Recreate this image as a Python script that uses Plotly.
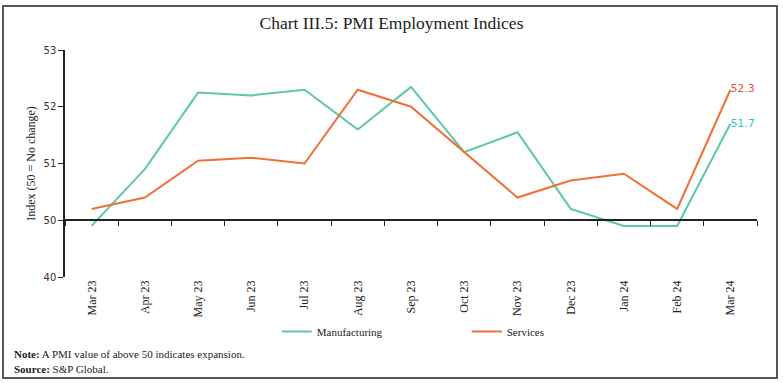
import plotly.graph_objects as go

months = ["Mar 23", "Apr 23", "May 23", "Jun 23", "Jul 23", "Aug 23", "Sep 23",
          "Oct 23", "Nov 23", "Dec 23", "Jan 24", "Feb 24", "Mar 24"]
manufacturing = [49.9, 50.9, 52.25, 52.2, 52.3, 51.6, 52.35, 51.2, 51.55, 50.2, 49.9, 49.9, 51.7]
services = [50.2, 50.4, 51.05, 51.1, 51.0, 52.3, 52.0, 51.2, 50.4, 50.7, 50.82, 50.2, 52.3]
ytick_vals = [49, 50, 51, 52, 53]
ytick_text = ["40", "50", "51", "52", "53"]

GREEN = "#5EC7A9"
ORANGE = "#F07035"
SERIF = "Liberation Serif"
SANS = "DejaVu Sans"

fig = go.Figure()

def last_labels(vals):
    return [""] * (len(vals) - 1) + [f"{vals[-1]:.1f}"]

fig.add_trace(go.Scatter(
    x=months, y=manufacturing, name="Manufacturing", mode="lines+text",
    line=dict(color=GREEN, width=2), text=last_labels(manufacturing),
    textposition="middle right", textfont=dict(family=SANS, size=11, color="#38C4C4"),
    cliponaxis=False))
fig.add_trace(go.Scatter(
    x=months, y=services, name="Services", mode="lines+text",
    line=dict(color=ORANGE, width=2), text=last_labels(services),
    textposition="middle right", textfont=dict(family=SANS, size=11, color="#E8553A"),
    cliponaxis=False))
# helper trace for the axis drawn at y = 50
fig.add_trace(go.Scatter(x=months, y=[None] * len(months), xaxis="x2",
                         showlegend=False, hoverinfo="skip"))

fig.update_layout(
    width=783, height=383,
    margin=dict(l=65, r=26, t=50, b=106, autoexpand=False),
    paper_bgcolor="white", plot_bgcolor="white",
    title=dict(text="Chart III.5: PMI Employment Indices", x=0.5, xanchor="center",
               y=0.94, yanchor="middle", font=dict(family=SERIF, size=17.5, color="#222")),
    xaxis=dict(type="category", categoryarray=months, range=[-0.5, 12.5],
               showline=False, ticks="", showgrid=False, tickangle=-90,
               tickfont=dict(family=SERIF, size=12, color="#222")),
    xaxis2=dict(type="category", categoryarray=months, range=[-0.5, 12.5],
                overlaying="x", anchor="free", position=0.25, side="bottom",
                showline=True, linecolor="#222", linewidth=1.5,
                ticks="outside", tickson="boundaries", ticklen=5, tickcolor="#222",
                showticklabels=False, showgrid=False),
    yaxis=dict(range=[49, 53], tickvals=ytick_vals, ticktext=ytick_text,
               showline=True, linecolor="#222", linewidth=1.5, ticks="outside",
               ticklen=5, tickcolor="#222", showgrid=False, zeroline=False,
               tickfont=dict(family=SANS, size=10, color="#333"),
               title=dict(text="Index (50 = No change)", standoff=5,
                          font=dict(family=SERIF, size=12, color="#222"))),
    legend=dict(orientation="h", x=0.306, xanchor="left", y=-0.24, yanchor="middle",
                entrywidth=145, entrywidthmode="pixels",
                font=dict(family=SERIF, size=11, color="#222")),
    showlegend=True,
)

fig.add_annotation(xref="paper", yref="paper", x=-0.076, y=-0.339, xanchor="left",
                   yanchor="middle", showarrow=False, align="left",
                   text="<b>Note:</b> A PMI value of above 50 indicates expansion.",
                   font=dict(family=SERIF, size=11, color="#222"))
fig.add_annotation(xref="paper", yref="paper", x=-0.076, y=-0.405, xanchor="left",
                   yanchor="middle", showarrow=False, align="left",
                   text="<b>Source:</b> S&amp;P Global.",
                   font=dict(family=SERIF, size=11, color="#222"))

fig.add_shape(type="rect", xref="paper", yref="paper",
              x0=-0.0896, x1=1.0289, y0=-0.445, y1=1.194,
              line=dict(color="#222", width=1.5), fillcolor="rgba(0,0,0,0)")

fig.write_html("out.html", config={"displayModeBar": False},
               post_script="document.body.style.margin='0';")
